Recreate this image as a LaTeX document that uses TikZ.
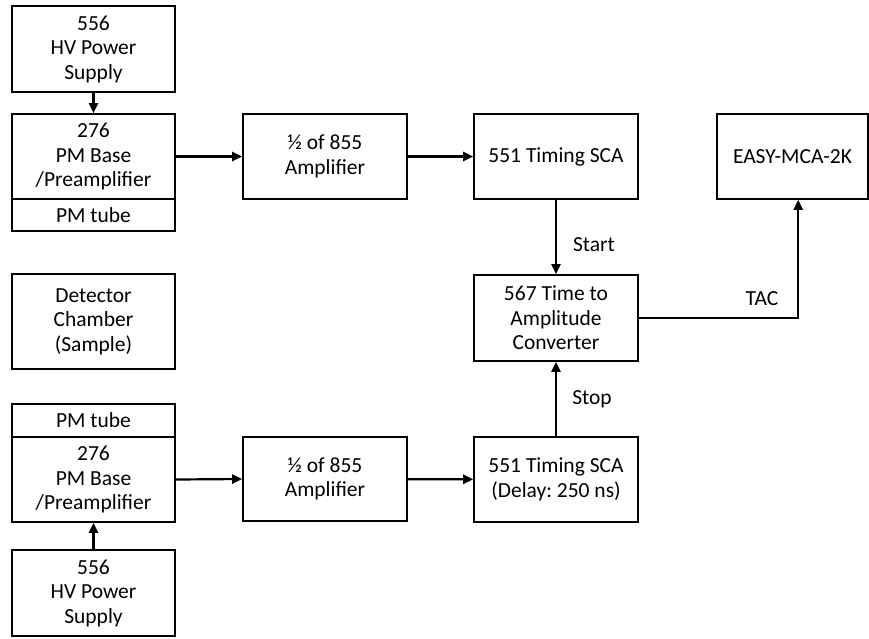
\documentclass[tikz,border=0pt]{standalone}
\usepackage{fontspec}
\setmainfont{Carlito}
\usetikzlibrary{arrows.meta}
\frenchspacing
\begin{document}
\begin{tikzpicture}[x=1pt,y=-1pt,
  box/.style={draw, line width=1.6pt, align=center, inner sep=0pt, font=\fontsize{21.5}{24.5}\selectfont},
  arr/.style={line width=2.2pt, -{Triangle[length=10pt,width=9pt]}},
  lbl/.style={font=\fontsize{21.5}{24.5}\selectfont}]
\useasboundingbox (0,0) rectangle (869,638);
\fill[white] (0,0) rectangle (869,638);
% left column, top
\node[box, minimum width=163pt, minimum height=86pt] (hv1) at (93.5,49) {556\\HV Power\\Supply};
\node[box, minimum width=163pt, minimum height=85pt] (base1) at (93.5,156.5) {276\\PM Base\\/Preamplifier};
\node[box, minimum width=163pt, minimum height=32pt] (tube1) at (93.5,215) {PM tube};
% detector
\node[box, minimum width=163pt, minimum height=95pt] (det) at (93.5,321.5) {Detector\\Chamber\\(Sample)};
% left column, bottom
\node[box, minimum width=163pt, minimum height=33pt] (tube2) at (93.5,420.5) {PM tube};
\node[box, minimum width=163pt, minimum height=85pt] (base2) at (93.5,479.5) {276\\PM Base\\/Preamplifier};
\node[box, minimum width=163pt, minimum height=86pt] (hv2) at (93.5,593) {556\\HV Power\\Supply};
% amplifiers
\node[box, minimum width=164pt, minimum height=85pt] (amp1) at (325,156.5) {½ of 855\\Amplifier};
\node[box, minimum width=164pt, minimum height=84pt] (amp2) at (325,479) {½ of 855\\Amplifier};
% SCAs
\node[box, minimum width=164pt, minimum height=85pt] (sca1) at (556,156.5) {551 Timing SCA};
\node[box, minimum width=164pt, minimum height=85pt] (sca2) at (556,479.5) {551 Timing SCA\\(Delay: 250 ns)};
% TAC
\node[box, minimum width=164pt, minimum height=86pt] (tac) at (556,318) {567 Time to\\Amplitude\\Converter};
% MCA
\node[box, minimum width=151pt, minimum height=85pt] (mca) at (792.5,156.5) {EASY-MCA-2K};
\coordinate (mcain) at ([xshift=82pt]mca.south west);
% connectors
\draw[arr] (hv1) -- (base1);
\draw[arr] (base1.east) -- (amp1.west);
\draw[arr] (amp1) -- (sca1);
\draw[arr] (sca1) -- (tac);
\draw[arr] (tac.east) -| (mcain);
\draw[arr] (sca2) -- (tac);
\draw[arr] (base2.east) -- (amp2.west);
\draw[arr] (amp2) -- (sca2);
\draw[arr] (hv2) -- (base2);
% labels
\node[lbl] (lstart) at (594,245) {Start};
\node[lbl] (lstop) at (592,399) {Stop};
\node[lbl] (ltac) at (762,299) {TAC};
\end{tikzpicture}
\end{document}
